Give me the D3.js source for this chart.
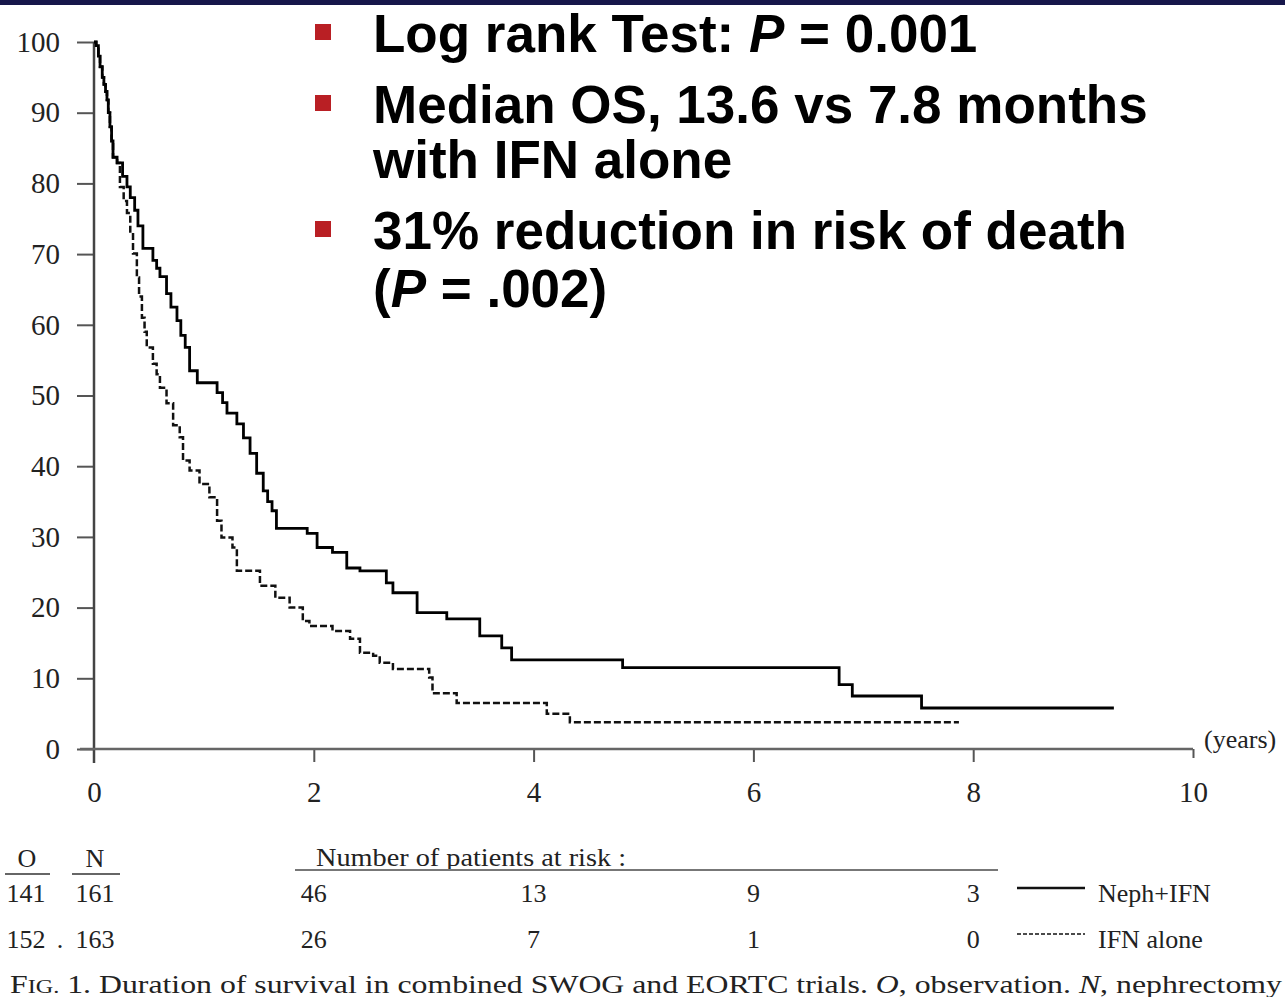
<!DOCTYPE html>
<html lang="en">
<head>
    <meta charset="UTF-8">
    <title>Duration of survival</title>
    <script src="https://cdnjs.cloudflare.com/ajax/libs/d3/7.8.5/d3.min.js"></script>
    <style>
        body {
            margin: 0;
            background-color: #fff;
        }
        svg {
            display: block;
        }
        .axis text {
            font-family: "Liberation Serif", "DejaVu Serif", serif;
            font-size: 29px;
            fill: #222;
        }
        .axis line, .axis path {
            stroke: #555;
            stroke-width: 2;
        }
        .serif {
            font-family: "Liberation Serif", "DejaVu Serif", serif;
            fill: #222;
        }
        .bullet-text {
            font-family: "Liberation Sans", Arial, sans-serif;
            font-weight: bold;
            font-size: 53px;
            fill: #000;
        }
    </style>
</head>
<body>
    <svg id="chart" width="1285" height="997"></svg>

    <script>
        // Kaplan-Meier curves: [years, % surviving]
        const nephIfn = [
            [0, 100], [0.02, 99.5], [0.04, 98], [0.055, 96.5], [0.075, 95], [0.09, 94],
            [0.105, 93], [0.118, 91.8], [0.13, 90], [0.145, 88], [0.16, 86], [0.173, 83.7],
            [0.21, 82.9], [0.26, 81], [0.30, 79.5], [0.33, 78], [0.37, 76.2], [0.40, 74],
            [0.445, 70.8], [0.536, 69.1], [0.57, 68], [0.60, 66.8], [0.66, 64.4], [0.70, 62.5],
            [0.755, 60.6], [0.79, 58.5], [0.83, 56.8], [0.87, 53.5], [0.94, 51.8],
            [1.12, 50.4], [1.17, 49], [1.21, 47.5], [1.30, 46.0], [1.36, 44], [1.42, 41.8],
            [1.48, 39], [1.54, 36.5], [1.58, 35], [1.62, 33.7], [1.66, 31.2], [1.94, 30.5],
            [2.03, 28.5], [2.17, 27.8], [2.30, 25.6], [2.42, 25.2], [2.66, 23.5],
            [2.72, 22.1], [2.94, 19.3], [3.21, 18.4], [3.51, 16.0], [3.71, 14.3],
            [3.80, 12.6], [4.81, 11.5], [6.78, 9.1], [6.90, 7.5], [7.53, 5.8], [9.28, 5.8]
        ];
        const ifnAlone = [
            [0, 100], [0.02, 99.5], [0.04, 98], [0.055, 96.5], [0.075, 95], [0.09, 94],
            [0.105, 93], [0.118, 91.8], [0.13, 90], [0.145, 88], [0.16, 86], [0.173, 83.7],
            [0.21, 82.9], [0.236, 79.5], [0.27, 77.5], [0.30, 75.8], [0.33, 73],
            [0.355, 70.1], [0.39, 66.7], [0.41, 64], [0.436, 61.0], [0.46, 59], [0.48, 56.8],
            [0.536, 54.5], [0.57, 53], [0.60, 51.1], [0.66, 48.9], [0.72, 45.8], [0.78, 44.1],
            [0.81, 40.8], [0.87, 39.4], [0.96, 37.5], [1.05, 35.6], [1.12, 32.3],
            [1.16, 29.9], [1.26, 28.5], [1.30, 25.2], [1.51, 23.1], [1.65, 21.4],
            [1.78, 20.0], [1.90, 18.1], [1.96, 17.4], [2.17, 16.7], [2.33, 15.6],
            [2.42, 13.6], [2.54, 13.2], [2.60, 12.2], [2.72, 11.3], [3.05, 10.1],
            [3.08, 7.9], [3.30, 6.5], [4.12, 5.0], [4.33, 3.8], [7.87, 3.8]
        ];

        const xTicks = [0, 2, 4, 6, 8, 10];
        const yTicks = [0, 10, 20, 30, 40, 50, 60, 70, 80, 90, 100];

        // number at risk table
        const riskYears = [2, 4, 6, 8];
        const riskNephIfn = [46, 13, 9, 3];
        const riskIfnAlone = [26, 7, 1, 0];
        const obsNeph = ["141", "161"];
        const obsIfn = ["152", "163"];
        const groupNames = ["Neph+IFN", "IFN alone"];

        const bullets = [
            [[{t: "Log rank Test: "}, {t: "P", i: true}, {t: " = 0.001"}]],
            [[{t: "Median OS, 13.6 vs 7.8 months"}], [{t: "with IFN alone"}]],
            [[{t: "31% reduction in risk of death"}], [{t: "("}, {t: "P", i: true}, {t: " = .002)"}]]
        ];

        const caption = "Duration of survival in combined SWOG and EORTC trials. ";

        const svg = d3.select("#chart");

        // dark band at top
        svg.append("rect")
            .attr("x", 0).attr("y", 0)
            .attr("width", 1285).attr("height", 5)
            .attr("fill", "#16164a");

        const x = d3.scaleLinear().domain([0, 10]).range([94, 1193]);
        const y = d3.scaleLinear().domain([0, 100]).range([749, 42]);

        // y axis
        const yAxis = svg.append("g")
            .attr("class", "axis")
            .attr("transform", `translate(${x(0)},0)`)
            .call(d3.axisLeft(y).tickValues(yTicks).tickSize(17).tickPadding(17));
        yAxis.select(".domain").remove();
        svg.append("line")
            .attr("x1", x(0)).attr("x2", x(0))
            .attr("y1", y(100)).attr("y2", 763)
            .attr("stroke", "#444").attr("stroke-width", 2.5);

        // x axis
        const xAxis = svg.append("g")
            .attr("class", "axis")
            .attr("transform", `translate(0,${y(0)})`)
            .call(d3.axisBottom(x).tickValues(xTicks).tickSize(13).tickPadding(19));
        xAxis.select(".domain").remove();
        xAxis.selectAll(".tick").filter(d => d === 0).select("line").remove();
        xAxis.selectAll(".tick").filter(d => d === 10).select("line").attr("y2", 9);
        svg.append("line")
            .attr("x1", 80).attr("x2", x(10))
            .attr("y1", y(0)).attr("y2", y(0))
            .attr("stroke", "#666").attr("stroke-width", 2.5);

        svg.append("text")
            .attr("class", "serif")
            .attr("x", 1204).attr("y", 748)
            .attr("font-size", 26)
            .text("(years)");

        // curves
        const line = d3.line()
            .x(d => x(d[0]))
            .y(d => y(d[1]))
            .curve(d3.curveStepAfter);

        svg.append("path")
            .datum(ifnAlone)
            .attr("d", line)
            .attr("fill", "none")
            .attr("stroke", "#111")
            .attr("stroke-width", 2.5)
            .attr("stroke-dasharray", "7,3");

        svg.append("path")
            .datum(nephIfn)
            .attr("d", line)
            .attr("fill", "none")
            .attr("stroke", "#000")
            .attr("stroke-width", 2.8);

        // bullet text block
        const lineStep = [0, 71, 126, 197, 255];
        let row = 0;
        bullets.forEach(b => {
            const base = 52 + lineStep[row];
            svg.append("rect")
                .attr("x", 315).attr("y", base - 28)
                .attr("width", 16).attr("height", 16)
                .attr("fill", "#b91f24");
            b.forEach(parts => {
                const t = svg.append("text")
                    .attr("class", "bullet-text")
                    .attr("x", 373)
                    .attr("y", 52 + lineStep[row]);
                parts.forEach(p => {
                    t.append("tspan")
                        .attr("font-style", p.i ? "italic" : null)
                        .text(p.t);
                });
                row++;
            });
        });

        // at-risk table
        const tableFont = 26;
        svg.append("text").attr("class", "serif").attr("font-size", tableFont)
            .attr("x", 27).attr("y", 867).attr("text-anchor", "middle").text("O");
        svg.append("text").attr("class", "serif").attr("font-size", tableFont)
            .attr("x", 95).attr("y", 867).attr("text-anchor", "middle").text("N");
        svg.append("line").attr("x1", 5).attr("x2", 50).attr("y1", 874).attr("y2", 874)
            .attr("stroke", "#666").attr("stroke-width", 2);
        svg.append("line").attr("x1", 72).attr("x2", 120).attr("y1", 874).attr("y2", 874)
            .attr("stroke", "#666").attr("stroke-width", 2);

        svg.append("text").attr("class", "serif").attr("font-size", tableFont)
            .attr("x", 316).attr("y", 866)
            .attr("textLength", 310).attr("lengthAdjust", "spacingAndGlyphs")
            .text("Number of patients at risk :");
        svg.append("line").attr("x1", 295).attr("x2", 998).attr("y1", 870).attr("y2", 870)
            .attr("stroke", "#777").attr("stroke-width", 2);

        const rows = [
            {obs: obsNeph, sep: " ", risk: riskNephIfn, y: 902, dash: null},
            {obs: obsIfn, sep: ".", risk: riskIfnAlone, y: 948, dash: "4,2"}
        ];
        rows.forEach((r, i) => {
            svg.append("text").attr("class", "serif").attr("font-size", tableFont)
                .attr("x", 26).attr("y", r.y).attr("text-anchor", "middle").text(r.obs[0]);
            svg.append("text").attr("class", "serif").attr("font-size", tableFont)
                .attr("x", 60).attr("y", r.y).attr("text-anchor", "middle").text(r.sep);
            svg.append("text").attr("class", "serif").attr("font-size", tableFont)
                .attr("x", 95).attr("y", r.y).attr("text-anchor", "middle").text(r.obs[1]);
            svg.selectAll(null)
                .data(riskYears)
                .enter().append("text")
                .attr("class", "serif")
                .attr("font-size", tableFont)
                .attr("x", d => x(d))
                .attr("y", r.y)
                .attr("text-anchor", "middle")
                .text((d, j) => r.risk[j]);
            svg.append("line")
                .attr("x1", 1017).attr("x2", 1085)
                .attr("y1", r.y - 14).attr("y2", r.y - 14)
                .attr("stroke", "#111")
                .attr("stroke-width", r.dash ? 1.5 : 2.5)
                .attr("stroke-dasharray", r.dash);
            svg.append("text").attr("class", "serif").attr("font-size", tableFont)
                .attr("x", 1098).attr("y", r.y).text(groupNames[i]);
        });

        // caption
        const cap = svg.append("text")
            .attr("class", "serif")
            .attr("font-size", 25)
            .attr("x", 10).attr("y", 993)
            .attr("textLength", 1272)
            .attr("lengthAdjust", "spacingAndGlyphs");
        cap.append("tspan").text("F");
        cap.append("tspan").attr("font-size", 19).text("IG.");
        cap.append("tspan").text("  1.  " + caption);
        cap.append("tspan").attr("font-style", "italic").text("O");
        cap.append("tspan").text(", observation. ");
        cap.append("tspan").attr("font-style", "italic").text("N");
        cap.append("tspan").text(", nephrectomy");
    </script>
</body>
</html>
